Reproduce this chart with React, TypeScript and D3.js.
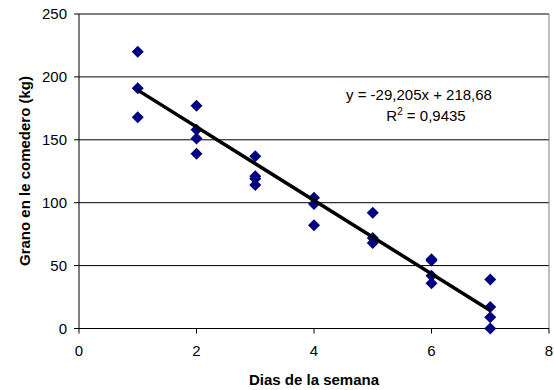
import React from "react";
import * as d3 from "d3";

const days = [1, 1, 1, 2, 2, 2, 2, 3, 3, 3, 3, 4, 4, 4, 5, 5, 5, 6, 6, 6, 6, 7, 7, 7, 7];
const grain = [220, 191, 168, 177, 158, 151, 139, 137, 121, 119, 114, 104, 99, 82, 92, 72, 68, 55, 54, 42, 36, 39, 17, 9, 0];
const xTicks = [0, 2, 4, 6, 8];
const yTicks = [0, 50, 100, 150, 200, 250];
const slope = -29.205;
const intercept = 218.68;
const eqLabel = "y = -29,205x + 218,68";
const r2Value = "0,9435";

const W = 554;
const H = 390;
const m = { left: 79, right: 549, top: 14, bottom: 328.5 };

export default function App() {
  const x = d3.scaleLinear().domain([0, 8]).range([m.left, m.right]);
  const y = d3.scaleLinear().domain([0, 250]).range([m.bottom, m.top]);
  const xMin = d3.min(days)!;
  const xMax = d3.max(days)!;
  const diamond = (cx: number, cy: number) => {
    const s = 6;
    return `M${cx},${cy - s}L${cx + s},${cy}L${cx},${cy + s}L${cx - s},${cy}Z`;
  };
  const font = "Arial, 'Liberation Sans', sans-serif";
  const fs = 15;
  return (
    <svg width={W} height={H} style={{ position: "absolute", left: 0, top: 0, background: "#fff" }} fontFamily={font}>
      <rect x={0} y={0} width={W} height={H} fill="#fff" />
      {yTicks.filter((t) => t > 0).map((t) => (
        <line key={t} x1={m.left} x2={m.right} y1={y(t)} y2={y(t)} stroke="#000" strokeWidth={1} />
      ))}
      <line x1={m.right} x2={m.right} y1={m.top} y2={m.bottom} stroke="#808080" strokeWidth={1} />
      <line x1={m.left} x2={m.left} y1={m.top} y2={m.bottom} stroke="#000" strokeWidth={1} />
      <line x1={m.left} x2={m.right} y1={m.bottom} y2={m.bottom} stroke="#000" strokeWidth={1} />
      {yTicks.map((t) => (
        <g key={t}>
          <line x1={m.left - 5} x2={m.left} y1={y(t)} y2={y(t)} stroke="#000" />
          <text x={67} y={y(t)} dy="0.35em" textAnchor="end" fontSize={fs} fill="#000">{t}</text>
        </g>
      ))}
      {xTicks.map((t) => (
        <g key={t}>
          <line x1={x(t)} x2={x(t)} y1={m.bottom} y2={m.bottom + 5} stroke="#000" />
          <text x={x(t)} y={356} textAnchor="middle" fontSize={fs} fill="#000">{t}</text>
        </g>
      ))}
      {days.map((d, i) => (
        <path key={i} d={diamond(x(d), y(grain[i]))} fill="#000080" />
      ))}
      <line x1={x(xMin)} y1={y(slope * xMin + intercept)} x2={x(xMax)} y2={y(slope * xMax + intercept)} stroke="#000" strokeWidth={3.5} />
      <text x={419} y={100} textAnchor="middle" fontSize={fs} fill="#000">{eqLabel}</text>
      <text x={426} y={121} textAnchor="middle" fontSize={fs} fill="#000">
        R<tspan dy={-6} fontSize={10}>2</tspan><tspan dy={6}> = {r2Value}</tspan>
      </text>
      <text x={314} y={385} textAnchor="middle" fontSize={fs} fontWeight="bold" fill="#000">Dias de la semana</text>
      <text transform={`translate(30,171) rotate(-90)`} textAnchor="middle" fontSize={fs} fontWeight="bold" fill="#000">Grano en le comedero (kg)</text>
    </svg>
  );
}
